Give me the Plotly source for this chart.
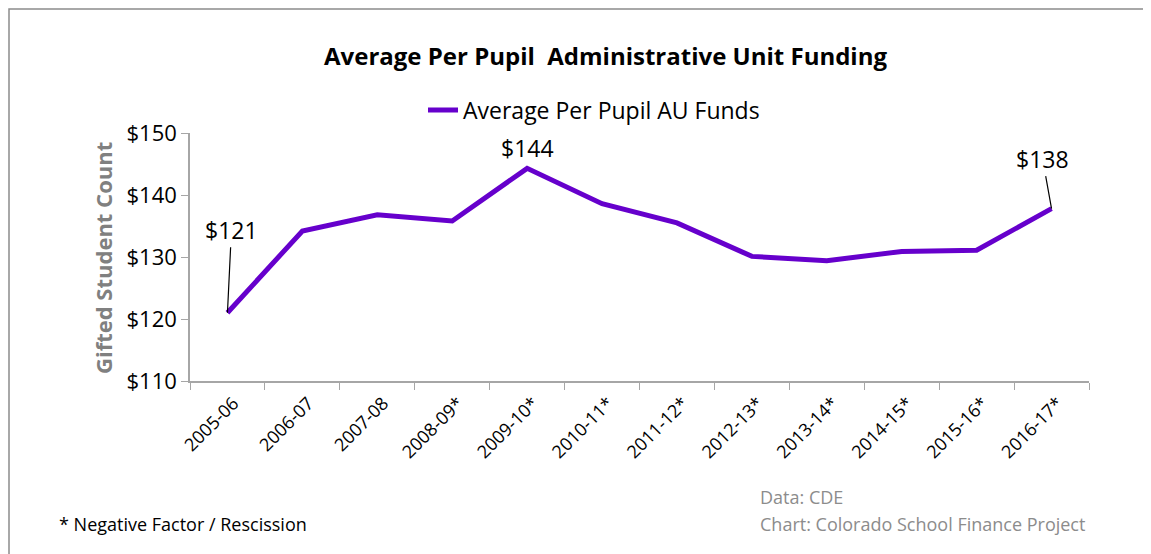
import plotly.graph_objects as go

years = ["2005-06", "2006-07", "2007-08", "2008-09*", "2009-10*", "2010-11*",
         "2011-12*", "2012-13*", "2013-14*", "2014-15*", "2015-16*", "2016-17*"]
au_funds = [121.0, 134.2, 136.8, 135.8, 144.3, 138.6, 135.5, 130.1, 129.4, 130.9, 131.1, 137.8]

FONT = "Open Sans, Noto Sans, sans-serif"
PURPLE = "#6600CC"
AXIS_GRAY = "#A6A6A6"
TEXT_GRAY = "#8C8C8C"

# page body has an 8px margin, so the figure starts at (8, 8) in the screenshot
OFF = 8
W, H = 1151, 554
PLOT_X0, PLOT_X1, PLOT_Y0, PLOT_Y1 = 190, 1089, 133, 381  # screenshot px
L, T = PLOT_X0 - OFF, PLOT_Y0 - OFF
R, B = W - (PLOT_X1 - OFF), H - (PLOT_Y1 - OFF)


def px_to_paper(x, y):
    return (x - PLOT_X0) / (PLOT_X1 - PLOT_X0), (PLOT_Y1 - y) / (PLOT_Y1 - PLOT_Y0)


def note(x, y, text, size, color="black", xanchor="center", angle=0):
    px_, py_ = px_to_paper(x, y)
    fig.add_annotation(x=px_, y=py_, xref="paper", yref="paper", showarrow=False,
                       xanchor=xanchor, yanchor="middle", text=text, align="left",
                       textangle=angle, font={"size": size, "color": color, "family": FONT})


fig = go.Figure()
fig.add_trace(go.Scatter(
    x=years, y=au_funds, mode="lines", name="Average Per Pupil AU Funds",
    line={"color": PURPLE, "width": 5},
))

# data labels with leader lines
label_font = {"size": 23, "color": "black", "family": FONT}
fig.add_annotation(x=years[0], y=au_funds[0], text=f"${au_funds[0]:.0f}", showarrow=True,
                   arrowhead=0, arrowwidth=1.2, arrowcolor="black", ax=4, ay=-83, standoff=0,
                   font=label_font)
fig.add_annotation(x=years[4], y=au_funds[4], text=f"${au_funds[4]:.0f}", showarrow=False,
                   yanchor="bottom", yshift=2, font=label_font)
fig.add_annotation(x=years[-1], y=au_funds[-1], text=f"${au_funds[-1]:.0f}", showarrow=True,
                   arrowhead=0, arrowwidth=1.2, arrowcolor="black", ax=-9, ay=-50, standoff=0,
                   font=label_font)

# title, axis title and footnotes
note(605, 55, "<b>Average Per Pupil  Administrative Unit Funding</b>", 24)
note(103, 258, "<b>Gifted Student Count</b>", 22, color="#808080", angle=-90)
note(57, 524, "* Negative Factor / Rescission", 18, xanchor="left")
note(758, 497, "Data: CDE", 18, color=TEXT_GRAY, xanchor="left")
note(758, 524, "Chart: Colorado School Finance Project", 18, color=TEXT_GRAY, xanchor="left")

# outer border
bx0, by0 = px_to_paper(9, 570)
bx1, by1 = px_to_paper(1170, 9)
fig.add_shape(type="rect", xref="paper", yref="paper", x0=bx0, y0=by0, x1=bx1, y1=by1,
              line={"color": TEXT_GRAY, "width": 1.5})

lx, ly = px_to_paper(423, 110)
fig.update_layout(
    width=W, height=H,
    margin={"l": L, "r": R, "t": T, "b": B},
    paper_bgcolor="white", plot_bgcolor="white",
    font={"family": FONT, "color": "black"},
    showlegend=True,
    legend={"x": lx, "y": ly, "xanchor": "left", "yanchor": "middle",
            "font": {"size": 23, "family": FONT}, "bgcolor": "rgba(0,0,0,0)"},
    xaxis={"type": "category", "range": [-0.5, len(years) - 0.5], "automargin": False,
           "showline": True, "linecolor": AXIS_GRAY, "linewidth": 1.5,
           "ticks": "outside", "tickson": "boundaries", "ticklen": 7, "tickcolor": AXIS_GRAY,
           "tickangle": -45, "ticklabelshift": 6, "ticklabelstandoff": 3,
           "tickfont": {"size": 18}, "showgrid": False},
    yaxis={"range": [110, 150], "dtick": 10, "tickprefix": "$", "automargin": False,
           "showline": True, "linecolor": AXIS_GRAY, "linewidth": 1.5,
           "ticks": "outside", "ticklen": 7, "tickcolor": AXIS_GRAY,
           "tickfont": {"size": 22}, "showgrid": False, "zeroline": False},
)

fig.write_html("out.html")
